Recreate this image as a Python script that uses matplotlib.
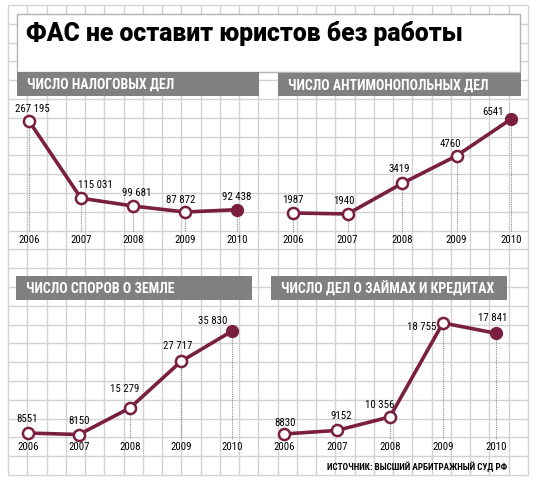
import numpy as np
import matplotlib.pyplot as plt
from matplotlib.patches import Rectangle

# data
years = ['2006', '2007', '2008', '2009', '2010']
tax_cases = [267195, 115031, 99681, 87872, 92438]
antitrust_cases = [1987, 1940, 3419, 4760, 6541]
land_disputes = [8551, 8150, 15279, 27717, 35830]
loan_cases = [8830, 9152, 10356, 18755, 17841]

title = 'ФАС не оставит юристов без работы'
panel_titles = ['ЧИСЛО НАЛОГОВЫХ ДЕЛ', 'ЧИСЛО АНТИМОНОПОЛЬНЫХ ДЕЛ',
                'ЧИСЛО СПОРОВ О ЗЕМЛЕ', 'ЧИСЛО ДЕЛ О ЗАЙМАХ И КРЕДИТАХ']
source = 'ИСТОЧНИК: ВЫСШИЙ АРБИТРАЖНЫЙ СУД РФ'

W, H = 538, 488
maroon = '#7a1f40'
bar_gray = '#808080'
grid_gray = '#d2d2d2'
narrow = ['Roboto Condensed', 'DejaVu Sans']

fig = plt.figure(figsize=(W / 100, H / 100), dpi=100)
bg = fig.add_axes([0, 0, 1, 1])
bg.set_xlim(0, W)
bg.set_ylim(H, 0)
bg.axis('off')

# background grid
bg.vlines(np.linspace(8, 528, 28), 5, 475, color=grid_gray, lw=1, zorder=1)
bg.hlines(np.linspace(5, 475, 26), 8, 528, color=grid_gray, lw=1, zorder=1)

# title box
bg.add_patch(Rectangle((17, 14), 503, 58, facecolor='white', edgecolor='#b4b4b4', lw=1, zorder=2))
bg.text(26, 34, title, fontsize=17.8, fontweight='black', family=['Roboto', 'DejaVu Sans'],
        va='center', ha='left', zorder=3)

# panel layout: header bar (x0, x1, y0, y1), axes box (l, r, t, b), xlim, ylim, label offsets
panels = [
    dict(values=tax_cases, bar=(17, 259, 72, 96), box=(17, 259, 100, 250),
         xlim=(-0.23, 4.42), ylim=(13000, 308571), year_y=240,
         offs=[(3, 12), (14, 13), (4, 13), (-4, 12), (0, 13)]),
    dict(values=antitrust_cases, bar=(278, 521, 73, 96), box=(278, 521, 100, 250),
         xlim=(-0.275, 4.18), ylim=(194, 7461), year_y=240,
         offs=[(0, 13), (-4, 13), (-3, 14), (-6, 12), (-18, 7)]),
    dict(values=land_disputes, bar=(16, 252, 276, 300), box=(16, 252, 304, 455),
         xlim=(-0.235, 4.39), ylim=(2674, 43060), year_y=447,
         offs=[(-1, 14), (0, 14), (-5, 19), (-3, 15), (-19, 10)]),
    dict(values=loan_cases, bar=(271, 507, 276, 300), box=(271, 507, 304, 455),
         xlim=(-0.245, 4.21), ylim=(6952, 20453), year_y=447,
         offs=[(1, 11), (4, 14), (-10, 12), (-21, -4), (-3, 15)]),
]


def fmt(v):
    return f'{v:,}'.replace(',', ' ') if v >= 10000 else str(v)


x = np.arange(len(years))
for p, ptitle in zip(panels, panel_titles):
    x0, x1, y0, y1 = p['bar']
    bg.add_patch(Rectangle((x0, y0), x1 - x0, y1 - y0, facecolor=bar_gray, edgecolor='none', zorder=2))
    bg.text(x0 + 10, (y0 + y1) / 2 + 1, ptitle, color='white', fontsize=10, fontweight='bold',
            family=narrow, va='center', ha='left', zorder=3)

    l, r, t, b = p['box']
    ax = fig.add_axes([l / W, 1 - b / H, (r - l) / W, (b - t) / H])
    ax.patch.set_alpha(0)
    ax.axis('off')
    ax.set_xlim(*p['xlim'])
    lo, hi = p['ylim']
    ax.set_ylim(lo, hi)
    vals = p['values']

    # year labels
    fy = (b - p['year_y']) / (b - t)
    for i, yr in enumerate(years):
        ax.text(i, fy, yr, transform=ax.get_xaxis_transform(), ha='center', va='center',
                fontsize=7.8, family=narrow)

    # dotted drop lines
    y_end = lo + (fy + 8 / (b - t)) * (hi - lo)
    for i, v in enumerate(vals):
        if (v - y_end) / (hi - lo) * (b - t) > 9:
            ax.plot([i, i], [v, y_end], color='#8c8c8c', lw=0.8, ls=(0, (1, 1)), zorder=1)

    ax.plot(x, vals, color=maroon, lw=2.6, zorder=2, solid_capstyle='round')
    ax.plot(x[:-1], vals[:-1], 'o', ms=8, mfc='white', mec=maroon, mew=1.8, zorder=3)
    ax.plot(x[-1:], vals[-1:], 'o', ms=8.5, mfc=maroon, mec=maroon, zorder=3)

    for i, v in enumerate(vals):
        dx, dy = p['offs'][i]
        ax.annotate(fmt(v), (i, v), xytext=(dx, dy), textcoords='offset pixels',
                    ha='center', va='center', fontsize=7.8, family=narrow)

bg.text(507, 467, source, fontsize=6.6, fontweight='bold', family=narrow,
        ha='right', va='center', zorder=3)

fig.savefig('out.png', dpi=100)
